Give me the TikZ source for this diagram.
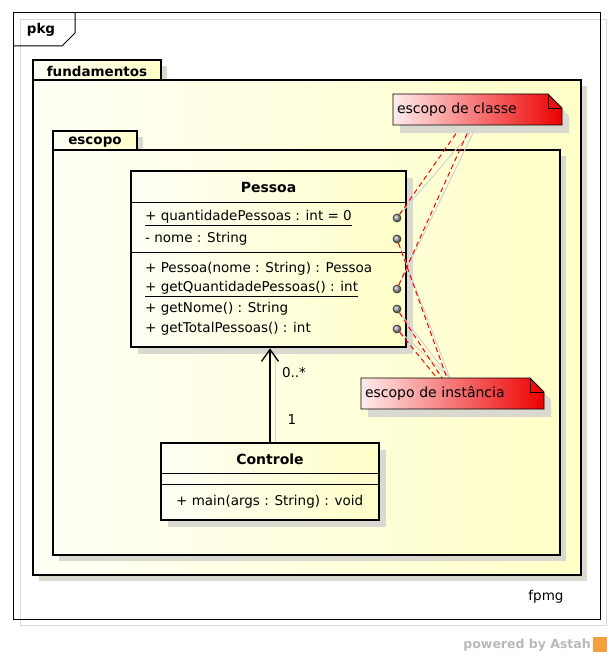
\documentclass[tikz,border=0pt]{standalone}
\usepackage{fontspec}
\setmainfont{DejaVu Sans}
\usepackage{tikz}
\usetikzlibrary{calc,arrows.meta,shadows,positioning}
\definecolor{pkglight}{RGB}{255,255,246}
\definecolor{pkgdark}{RGB}{255,255,200}
\definecolor{shadowgray}{RGB}{217,217,208}
\definecolor{notelight}{RGB}{255,236,236}
\definecolor{notered}{RGB}{236,0,0}
\definecolor{linkgray}{RGB}{210,210,210}
\definecolor{astahgray}{RGB}{185,185,185}
\definecolor{astahorange}{RGB}{245,160,60}
\tikzset{
  % package frames and their tabs
  pkg body/.style={draw=black, line width=2.6pt, left color=pkglight, right color=pkgdark,
    drop shadow={shadow xshift=6pt, shadow yshift=-6pt, fill=shadowgray, opacity=1}},
  pkg label/.style={font=\fontsize{13.5}{16}\selectfont\bfseries, inner sep=0pt},
  % class boxes
  class box/.style={draw=black, line width=2.6pt, left color=pkglight, right color=pkgdark,
    rectangle, inner sep=0pt,
    drop shadow={shadow xshift=7pt, shadow yshift=-7pt, fill=shadowgray, opacity=1}},
  class name/.style={font=\fontsize{14}{16}\selectfont\bfseries, inner sep=0pt},
  member/.style={font=\fontsize{13.5}{16}\selectfont, inner sep=0pt, anchor=west},
  member dot/.style={circle, inner sep=0pt, minimum size=8pt, draw=black!80, line width=0.6pt, ball color=gray!75},
  % notes with folded corner
  note shape/.style={draw=black, line width=0.8pt, left color=notelight, right color=notered,
    drop shadow={shadow xshift=7pt, shadow yshift=-8pt, fill=shadowgray, opacity=1}},
  note text/.style={rectangle, minimum height=31pt, text width=#1, align=left,
    inner xsep=4pt, inner ysep=0pt, font=\fontsize{14}{16}\selectfont},
  scope link/.style={red, line width=1pt, dash pattern=on 5pt off 3.5pt},
  link shadow/.style={linkgray, line width=1pt},
}

\begin{document}
\begin{tikzpicture}[x=1pt, y=-1pt]
    \useasboundingbox (0,0) rectangle (613,658);
    \fill[white] (0,0) rectangle (613,658);

    % outer frame
    \draw[black!15, line width=1pt] (20,20) rectangle (606,625);
    \draw[black, line width=1pt] (13,13) rectangle (600,619);
    \draw[black, line width=1pt] (75,13) -- (75,33) -- (62,46) -- (13,46);
    \node[pkg label] (pkgname) at (41,30) {pkg};

    % package fundamentos
    \draw[pkg body] (33,60) rectangle (161,80);
    \draw[pkg body] (33,80) rectangle (581,575);
    \node[pkg label] (fundname) at (97,71) {fundamentos};

    % package escopo
    \draw[pkg body] (53,131) rectangle (137,150);
    \draw[pkg body] (53,150) rectangle (560,555);
    \node[pkg label] (escname) at (95,142) {escopo};

    % class Pessoa
    \node[class box, minimum width=275pt, minimum height=176pt] (pessoa) at (268.5,259) {};
    \node[class name] (pessoaname) at (268.5,187) {Pessoa};
    \draw[line width=1pt] (131,202) -- (406,202);
    \draw[line width=1pt] (131,252) -- (406,252);
    \node[member] (attr1) at (145,218) {\underline{+ quantidadePessoas : int = 0}};
    \node[member] (attr2) at (145,239) {- nome : String};
    \node[member] (op1) at (145,269) {+ Pessoa(nome : String) : Pessoa};
    \node[member] (op2) at (145,289) {\underline{+ getQuantidadePessoas() : int}};
    \node[member] (op3) at (145,309) {+ getNome() : String};
    \node[member] (op4) at (145,329) {+ getTotalPessoas() : int};

    % class Controle
    \node[class box, minimum width=218pt, minimum height=77pt] (controle) at (270,481.5) {};
    \node[class name] (controlename) at (270,459) {Controle};
    \draw[line width=1pt] (161,473) -- (379,473);
    \draw[line width=1pt] (161,484) -- (379,484);
    \node[member] (op5) at (176,502) {+ main(args : String) : void};

    % association
    \draw[link shadow] ([xshift=5pt]controle.north) -- ([xshift=5pt]controle.north |- pessoa.south);
    \draw[line width=1.3pt, -{Straight Barb[length=12pt, width=17pt]}] (controle.north) -- (controle.north |- pessoa.south);
    \node[font=\fontsize{13.5}{16}\selectfont, inner sep=0pt] (multmany) at (294,373) {0..*};
    \node[font=\fontsize{13.5}{16}\selectfont, inner sep=0pt] (multone) at (292,420) {1};

    % member dots and links
    \node[member dot] (d1) at (397,218) {};
    \node[member dot] (d2) at (397,239) {};
    \node[member dot] (d3) at (397,289) {};
    \node[member dot] (d4) at (397,309) {};
    \node[member dot] (d5) at (397,329) {};
    \coordinate (c1) at (462,125);
    \coordinate (c2) at (471,125);
    \coordinate (c3) at (477,125);
    \coordinate (i1) at (437,378);
    \coordinate (i2) at (442,378);
    \coordinate (i3) at (447,378);
    \coordinate (i4) at (450,378);
    \foreach \d in {d1,d3}
        \draw[link shadow] (\d) -- (c3);
    \foreach \d in {d2,d4,d5}
        \draw[link shadow] (\d) -- (i4);
    \draw[scope link] (d1) -- (c1);
    \draw[scope link] (d3) -- (c2);
    \draw[scope link] (d2) -- (i3);
    \draw[scope link] (d4) -- (i2);
    \draw[scope link] (d5) -- (i1);

    % notes
    \draw[note shape] (393,94) -- (548,94) -- (562,108) -- (562,125) -- (393,125) -- cycle;
    \draw[line width=0.8pt] (548,94) -- (548,108) -- (562,108);
    \node[note text=161pt] (cnote) at (477.5,109.5) {escopo de classe};
    \draw[note shape] (361,378) -- (530,378) -- (544,392) -- (544,409) -- (361,409) -- cycle;
    \draw[line width=0.8pt] (530,378) -- (530,392) -- (544,392);
    \node[note text=175pt] (inote) at (452.5,393.5) {escopo de instância};

    \node[font=\fontsize{13.5}{16}\selectfont, inner sep=0pt] (author) at (546,597) {fpmg};

    % footer
    \node[font=\fontsize{12.5}{15}\selectfont\bfseries, text=astahgray, inner sep=0pt, anchor=east] (powered) at (591,645) {powered by Astah};
    \fill[astahorange] (593,637) rectangle (607,652);
\end{tikzpicture}
\end{document}
